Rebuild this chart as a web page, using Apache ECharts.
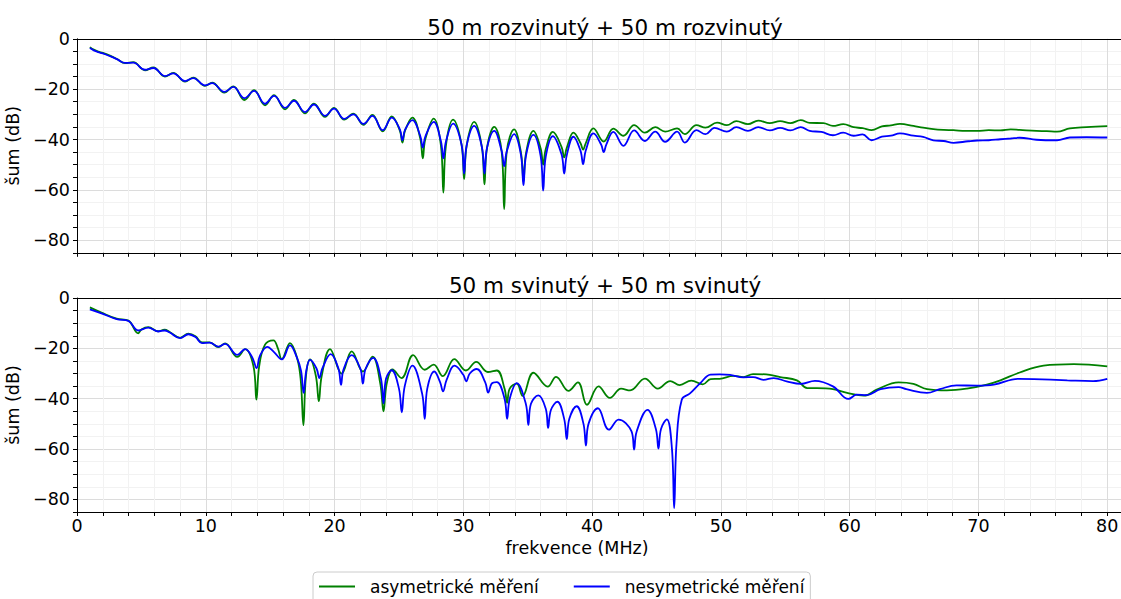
<!DOCTYPE html>
<html><head><meta charset="utf-8">
<script src="https://cdn.jsdelivr.net/npm/echarts@6/dist/echarts.min.js"></script>
<style>html,body{margin:0;padding:0;background:#fff;overflow:hidden}#c{width:1121px;height:599px}</style>
</head><body><div id="c"></div>
<script>
const titles = ['50 m rozvinutý + 50 m rozvinutý', '50 m svinutý + 50 m svinutý'];
const seriesNames = ['asymetrické měření', 'nesymetrické měření'];
const xLabel = 'frekvence (MHz)';
const yLabel = 'šum (dB)';
const xTickValues = [0, 10, 20, 30, 40, 50, 60, 70, 80];
const yTickValues = [0, -20, -40, -60, -80];

// top panel, asymmetric (green)
const topAsym = [[1.0,-3.3],[1.3,-4.3],[1.65,-5.1],[2.0,-5.6],[2.56,-6.7],[3.1,-8.0],[3.73,-9.7],[4.37,-9.3],[5.28,-12.5],[5.93,-11.4],[6.83,-15.0],[7.48,-13.5],[8.39,-17.0],[9.03,-15.4],[9.94,-18.7],[10.5,-17.4],[11.44,-21.4],[12.14,-18.9],[13.0,-24.3],[13.75,-20.4],[14.6,-26.4],[15.3,-22.4],[16.16,-28.0],[16.85,-24.3],[17.7,-29.6],[18.4,-25.8],[19.26,-31.0],[19.96,-27.4],[20.75,-32.1],[21.46,-29.7],[22.24,-34.2],[22.94,-30.2],[23.74,-36.8],[24.44,-30.8],
[25.07,-36.5],[25.27,-41.2],[25.47,-36.5],[26.04,-31.3],
[26.65,-39.5],[26.85,-47.5],[27.05,-39.8],[27.7,-31.7],
[28.25,-42],[28.45,-61.1],[28.65,-42.3],[29.2,-32.1],
[29.86,-42],[30.06,-55.7],[30.26,-42.3],[30.84,-33.0],
[31.44,-43],[31.64,-57.8],[31.84,-43.3],[32.4,-35.0],
[32.97,-44.5],[33.17,-67.7],[33.37,-44.8],[33.94,-36.0],
[34.47,-45],[34.67,-56.5],[34.87,-45.3],[35.44,-36.6],
[36.0,-43.5],[36.2,-50],[36.4,-43.8],[36.95,-37.0],
[37.63,-43],[37.83,-47.1],[38.03,-43.3],[38.55,-37.3],
[39.1,-41.5],[39.3,-44],[39.5,-41.5],[40.1,-35.6],
[40.9,-40.8],[41.65,-35.7],[42.43,-38.5],[43.26,-34.3],[44.1,-37.3],[44.9,-35.1],[45.67,-36.9],[46.6,-35.6],[47.2,-37.9],[48.1,-34.3],[48.8,-35.3],[49.7,-33.3],[50.46,-34.3],[51.2,-32.7],[52.1,-33.9],[52.9,-32.5],[53.8,-33.5],[54.6,-32.7],[55.4,-33.5],[56.2,-32.3],[56.9,-33.4],[57.96,-33.5],[58.7,-34.6],[59.5,-33.9],[60.3,-35.1],[61.0,-35.5],[61.7,-36.3],[62.5,-34.8],[63.2,-34.4],[63.9,-33.8],[64.95,-34.6],[65.7,-35.3],[66.5,-35.9],[67.3,-36.2],[68.06,-36.3],[69.0,-36.6],[69.9,-36.6],[70.8,-36.3],[71.7,-36.4],[72.5,-36.0],[73.2,-36.2],[74.5,-36.6],[75.3,-36.7],[76.1,-36.9],[77.1,-35.6],[78.4,-35.1],[80.0,-34.7]];

// top panel, non-symmetric (blue)
const topNesym = [[1.0,-3.7],[1.3,-4.6],[1.65,-5.3],[2.0,-5.8],[2.56,-6.9],[3.1,-8.1],[3.73,-9.6],[4.37,-9.5],[5.28,-12.3],[5.93,-11.6],[6.83,-14.8],[7.48,-13.7],[8.39,-16.8],[9.03,-15.6],[9.94,-18.5],[10.5,-17.6],[11.44,-21.1],[12.14,-19.1],[13.0,-23.6],[13.75,-20.7],[14.6,-25.8],[15.3,-22.7],[16.16,-27.4],[16.85,-24.6],[17.7,-29.1],[18.4,-26.1],[19.26,-30.6],[19.96,-27.7],[20.75,-31.8],[21.46,-30.0],[22.24,-33.8],[22.94,-30.6],[23.74,-36.3],[24.44,-31.3],
[25.07,-36.0],[25.27,-40.3],[25.47,-36.2],[26.04,-32.3],
[26.65,-38.5],[26.85,-43.2],[27.05,-38.8],[27.7,-33.0],
[28.25,-40.5],[28.45,-47.5],[28.65,-40.8],[29.2,-33.7],
[29.86,-42],[30.06,-53.5],[30.26,-42.3],[30.84,-34.6],
[31.44,-43],[31.64,-53.5],[31.84,-43.3],[32.4,-36.6],
[32.97,-44.5],[33.17,-50.6],[33.37,-44.8],[33.94,-37.9],
[34.47,-46],[34.67,-58.1],[34.87,-46.3],[35.44,-38.2],
[36.0,-46.5],[36.2,-60.3],[36.4,-46.8],[36.95,-38.7],
[37.63,-46],[37.83,-53.5],[38.03,-46.3],[38.55,-38.9],
[39.1,-44.5],[39.3,-49.8],[39.5,-44.5],[40.1,-37.6],
[40.7,-42],[40.9,-45.0],[41.1,-42],[41.65,-37.0],
[42.43,-42.5],[43.26,-36.4],[44.1,-40.6],[44.9,-36.9],[45.67,-40.9],[46.6,-36.9],[47.2,-41.2],[48.1,-36.3],[48.8,-37.9],[49.5,-35.4],[50.46,-36.9],[51.2,-35.1],[52.1,-36.6],[52.9,-35.1],[53.8,-36.4],[54.6,-35.4],[55.4,-36.4],[56.2,-35.1],[56.9,-36.6],[57.8,-37.0],[58.7,-38.3],[59.5,-37.3],[60.3,-38.5],[61.0,-38.0],[61.7,-40.3],[62.5,-38.9],[63.2,-38.5],[63.9,-37.6],[64.95,-38.5],[65.7,-39.0],[66.5,-40.3],[67.3,-40.6],[68.06,-41.3],[69.2,-40.7],[69.9,-40.4],[70.8,-40.3],[71.7,-39.9],[72.5,-39.6],[73.2,-39.3],[74.5,-40.1],[76.1,-40.3],[77.1,-39.2],[78.4,-39.1],[80.0,-39.2]];

// bottom panel, asymmetric (green)
const botAsym = [[1.0,-3.7],[1.9,-5.8],[3.08,-8.2],[3.99,-9.0],[4.76,-14.0],[5.0,-12.5],[5.54,-11.6],[6.3,-13.2],[6.8,-12.6],[7.2,-13.5],[8.0,-15.8],[8.65,-14.2],[9.2,-15.2],[9.7,-17.6],[10.3,-17.6],[10.97,-19.5],[11.5,-18.0],[12.45,-23.4],[13.05,-20.3],
[13.7,-27],[13.93,-40.4],[14.15,-27],[14.6,-18.5],[15.25,-16.8],[15.6,-20],[15.9,-24.3],[16.54,-17.9],
[17.1,-24],[17.38,-33],[17.58,-50.5],[17.78,-31],[18.1,-24.4],
[18.55,-31],[18.78,-41],[19.0,-31],[19.65,-20.3],[20.55,-30],[21.33,-21.2],[22.2,-29.2],[22.95,-23.3],
[23.55,-34],[23.8,-45],[24.05,-34],[24.5,-28.4],[25.2,-31.8],[26.1,-22.7],[27.0,-28.5],[27.7,-26.5],[28.4,-31.0],[29.3,-24.3],[30.2,-28.8],[31.0,-25.4],[31.9,-29.4],[32.6,-28.8],
[33.2,-36],[33.4,-41.6],[33.6,-36],[34.15,-34],[34.6,-38.9],[35.44,-29.7],[36.55,-35.2],[37.2,-31.3],[38.16,-36.9],[38.9,-33.5],[39.6,-42.4],[40.5,-35.1],[41.38,-39.7],[42.25,-36],[42.95,-36.7],[44.1,-32],[45.1,-36],[46.06,-33],[46.8,-34.6],[47.7,-32.8],[48.6,-34.3],[49.2,-32.2],[49.9,-32.1],[50.97,-30.9],[51.75,-31.4],[52.5,-30.2],[53.8,-30.5],[54.6,-31.4],[55.9,-32.7],[56.7,-35.8],[57.45,-35.8],[58.7,-36.2],[59.8,-37.7],[61.1,-38.8],[62.1,-36.4],[63.8,-33.5],[64.95,-34.1],[66.0,-36.2],[67.55,-36.7],[69.1,-36.0],[70.65,-34.4],[71.7,-32.7],[73.2,-29.6],[75.05,-26.9],[77.4,-26.3],[80.0,-27.2]];

// bottom panel, non-symmetric (blue)
const botNesym = [[1.0,-4.5],[1.9,-6.1],[3.08,-8.4],[3.99,-9.1],[4.76,-12.9],[5.54,-11.8],[6.3,-13.3],[6.8,-12.9],[7.2,-13.7],[8.0,-15.9],[8.65,-14.4],[9.2,-15.5],[9.7,-17.9],[10.3,-17.7],[10.97,-19.3],[11.5,-18.2],[12.45,-22.6],[13.05,-20.3],
[13.6,-23.5],[13.95,-27.8],[14.2,-23],[14.78,-19.4],[15.3,-21.5],[15.9,-24.4],[16.54,-18.8],
[17.1,-24],[17.4,-29],[17.6,-37.7],[17.8,-29],[18.1,-24.6],
[18.6,-28],[18.82,-31.8],[19.05,-28],[19.7,-22.3],
[20.3,-28],[20.5,-34.5],[20.7,-28.3],[21.33,-22.7],
[22.0,-28],[22.2,-34],[22.4,-28.3],[23.0,-23.8],
[23.6,-32],[23.8,-41.8],[24.0,-32],[24.44,-28.7],
[25.0,-36],[25.22,-45.4],[25.45,-35],[26.05,-26.9],
[26.8,-38],[27.0,-48],[27.2,-36],[27.75,-29.2],
[28.2,-33.5],[28.42,-37.1],[28.7,-32.5],[29.32,-26.9],
[30.0,-30.5],[30.22,-33.1],[30.5,-30],[31.04,-28.2],
[31.7,-33.5],[31.93,-37.6],[32.2,-34],[32.6,-33.4],
[33.2,-40],[33.4,-48],[33.6,-40],[34.15,-33.8],
[34.85,-42],[35.05,-50.4],[35.25,-42],[35.82,-38.7],
[36.4,-44],[36.58,-51.6],[36.8,-44.5],[37.3,-41.2],
[37.83,-48],[38.03,-56],[38.23,-48],[38.8,-43],
[39.33,-50],[39.52,-58.6],[39.72,-50],[40.45,-43.8],
[41.3,-52.3],[42.05,-48.3],
[43.06,-53],[43.26,-60.2],[43.46,-53],[44.3,-44.4],
[44.95,-52],[45.15,-59.8],[45.35,-52],[45.8,-48.2],
[46.2,-60],[46.37,-83.5],[46.55,-58],[46.96,-40.4],[47.6,-37.9],[48.4,-33.8],[49.2,-30.4],[49.9,-30.3],[50.7,-30.5],[51.75,-31.5],[52.5,-31.4],[53.3,-32.5],[54.1,-31.8],[55.1,-33.1],[56.2,-34.1],[57.3,-32.9],[58.7,-35.1],[59.9,-40.1],[60.55,-38.4],[61.3,-38.6],[62.4,-36.2],[63.8,-35.4],[64.4,-36.2],[66.0,-37.7],[67.0,-36.2],[68.3,-34.7],[69.9,-34.8],[71.2,-34.4],[73.1,-32.1],[74.3,-32.2],[76.9,-32.7],[78.9,-33.0],[80.0,-32.1]];

const FONT = 'DejaVu Sans';
const GREEN = '#008000', BLUE = '#0000ff';
const gridTops = [38.8, 298];
const gridH = 214;

function xAxes(gi, withLabels) {
  return [{
    gridIndex: gi, type: 'value', min: 0, max: 82, interval: 2, position: 'bottom',
    axisLine: { show: true, onZero: false, lineStyle: { color: '#000', width: 1 } },
    axisTick: { show: true, length: 4, lineStyle: { color: '#000', width: 1 } },
    axisLabel: { show: withLabels, margin: 5, fontSize: 17.5, fontFamily: FONT, color: '#000',
      formatter: v => xTickValues.includes(v) ? String(v) : '' },
    splitLine: { show: true, lineStyle: { width: 1, color: ['#dcdcdc', '#f2f2f2', '#f2f2f2', '#f2f2f2', '#f2f2f2'] } }
  }, {
    gridIndex: gi, type: 'value', min: 0, max: 82, position: 'top',
    axisLine: { show: true, onZero: false, lineStyle: { color: '#000', width: 1 } },
    axisTick: { show: false }, axisLabel: { show: false }, splitLine: { show: false }
  }];
}
function yAxis(gi) {
  return {
    gridIndex: gi, type: 'value', min: -85, max: 0, interval: 5, position: 'left',
    name: yLabel, nameLocation: 'middle', nameGap: 48,
    nameTextStyle: { fontSize: 17.5, fontFamily: FONT, color: '#000' },
    axisLine: { show: true, onZero: false, lineStyle: { color: '#000', width: 1 } },
    axisTick: { show: true, length: 4, lineStyle: { color: '#000', width: 1 } },
    axisLabel: { margin: 7, fontSize: 17.5, fontFamily: FONT, color: '#000',
      formatter: v => yTickValues.includes(v) ? String(v).replace('-', '\u2212') : '' },
    splitLine: { show: true, lineStyle: { width: 1, color: ['#f2f2f2', '#dcdcdc', '#f2f2f2', '#f2f2f2'] } }
  };
}
function line(name, data, color, xi, yi) {
  return { name, type: 'line', data, xAxisIndex: xi, yAxisIndex: yi, smooth: 0.4,
    symbol: 'none', showSymbol: false, clip: true,
    lineStyle: { color, width: 1.8 }, itemStyle: { color }, emphasis: { disabled: true } };
}

const chart = echarts.init(document.getElementById('c'), null, { renderer: 'svg' });
chart.setOption({
  animation: false,
  backgroundColor: '#fff',
  grid: gridTops.map(t => ({ left: 77, top: t, width: 1056, height: gridH, containLabel: false, outerBoundsMode: 'none' })),
  xAxis: [...xAxes(0, false), ...xAxes(1, true)],
  yAxis: [yAxis(0), yAxis(1)],
  legend: {
    data: seriesNames, left: 313, top: 572, orient: 'horizontal',
    icon: 'rect', itemWidth: 36, itemHeight: 2,
    padding: [6, 6, 12, 6], itemGap: 35,
    borderColor: '#cccccc', borderWidth: 1, borderRadius: 4, backgroundColor: '#fff',
    textStyle: { fontSize: 17, fontFamily: FONT, color: '#000', padding: [0, 0, 0, 10] }
  },
  graphic: [
    { type: 'text', x: 605, y: 27, style: { text: titles[0], font: '21.5px "DejaVu Sans"', fill: '#000', textAlign: 'center', textVerticalAlign: 'middle' } },
    { type: 'text', x: 605, y: 285, style: { text: titles[1], font: '21.5px "DejaVu Sans"', fill: '#000', textAlign: 'center', textVerticalAlign: 'middle' } },
    { type: 'text', x: 577, y: 548, style: { text: xLabel, font: '17.5px "DejaVu Sans"', fill: '#000', textAlign: 'center', textVerticalAlign: 'middle' } }
  ],
  series: [
    line(seriesNames[0], topAsym, GREEN, 0, 0),
    line(seriesNames[1], topNesym, BLUE, 0, 0),
    line(seriesNames[0], botAsym, GREEN, 2, 1),
    line(seriesNames[1], botNesym, BLUE, 2, 1)
  ]
});
</script></body></html>
